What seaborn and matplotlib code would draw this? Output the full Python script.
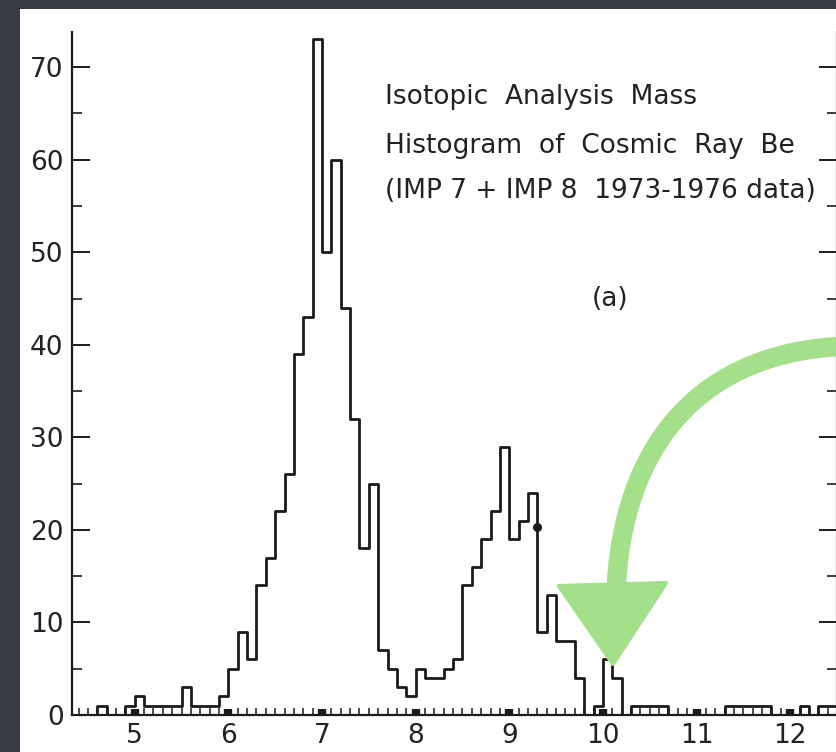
import numpy as np
import pandas as pd
import matplotlib
matplotlib.use("Agg")
import matplotlib.pyplot as plt
import seaborn as sns
from matplotlib.path import Path
from matplotlib.patches import PathPatch, Polygon, Rectangle
from matplotlib.ticker import MultipleLocator

# ---------------- data ----------------
mass_centers = [4.45, 4.55, 4.65, 4.75, 4.85, 4.95,
                5.05, 5.15, 5.25, 5.35, 5.45, 5.55, 5.65, 5.75, 5.85, 5.95,
                6.05, 6.15, 6.25, 6.35, 6.45, 6.55, 6.65, 6.75, 6.85, 6.95,
                7.05, 7.15, 7.25, 7.35, 7.45, 7.55, 7.65, 7.75, 7.85, 7.95,
                8.05, 8.15, 8.25, 8.35, 8.45, 8.55, 8.65, 8.75, 8.85, 8.95,
                9.05, 9.15, 9.25, 9.35, 9.45, 9.55, 9.65, 9.75, 9.85, 9.95,
                10.05, 10.15, 10.25, 10.35, 10.45, 10.55, 10.65, 10.75, 10.85, 10.95,
                11.05, 11.15, 11.25, 11.35, 11.45, 11.55, 11.65, 11.75, 11.85, 11.95,
                12.05, 12.15, 12.25, 12.35, 12.45]
counts = [0, 0, 1, 0, 0, 1,
          2, 1, 1, 1, 1, 3, 1, 1, 1, 2,
          5, 9, 6, 14, 17, 22, 26, 39, 43, 73,
          50, 60, 44, 32, 18, 25, 7, 5, 3, 2,
          5, 4, 4, 5, 6, 14, 16, 19, 22, 29,
          19, 21, 24, 9, 13, 8, 8, 4, 0, 1,
          6, 4, 0, 1, 1, 1, 1, 0, 0, 0,
          0, 0, 0, 1, 1, 1, 1, 1, 0, 0,
          0, 1, 0, 1, 1]
x_ticks = [5, 6, 7, 8, 9, 10, 11, 12]
y_ticks = [0, 10, 20, 30, 40, 50, 60, 70]
marked_point_x = [9.3]
marked_point_y = [20.3]
title_lines = ["Isotopic  Analysis  Mass",
               "Histogram  of  Cosmic  Ray  Be",
               "(IMP 7 + IMP 8  1973-1976 data)"]
panel_label = "(a)"

df = pd.DataFrame({"mass": mass_centers, "count": counts})

# ---------------- figure ----------------
W, H = 837, 752
sns.set_style("ticks")
plt.rcParams["font.family"] = ["DejaVu Sans"]
fig = plt.figure(figsize=(W / 100, H / 100), dpi=100)
fig.patch.set_facecolor("#363b46")

# white "paper" area
fig.patches.append(Rectangle((20 / W, 0), 1 - 20 / W, 1 - 9 / H,
                             transform=fig.transFigure, facecolor="white",
                             edgecolor="none", zorder=-10))

def fx(px):
    return px / W

def fy(py):
    return 1 - py / H

ax_left, ax_right, ax_bottom, ax_top = 72, 837, 715, 32
ax = fig.add_axes([fx(ax_left), fy(ax_bottom), (ax_right - ax_left) / W,
                   (ax_bottom - ax_top) / H])
ax.set_facecolor("none")
ax.set_zorder(1)

edges = [round(v, 2) for v in np.arange(4.4, 12.51, 0.1)]
ink = "#1b1b1b"
sns.histplot(data=df, x="mass", weights="count", bins=edges, element="step",
             fill=False, color=ink, linewidth=2.0, ax=ax)
ax.scatter(marked_point_x, marked_point_y, s=30, color=ink, zorder=5)

ax.set_xlim(4.33, 12.5)
ax.set_ylim(0, 73.8)
ax.set_xlabel("")
ax.set_ylabel("")

ax.set_xticks(x_ticks)
ax.set_xticklabels([str(t) for t in x_ticks])
ax.xaxis.set_minor_locator(MultipleLocator(0.1))
ax.set_yticks(y_ticks)
ax.set_yticklabels([str(t) for t in y_ticks])
ax.yaxis.set_minor_locator(MultipleLocator(5))

for s in ["left", "bottom", "right"]:
    ax.spines[s].set_color(ink)
    ax.spines[s].set_linewidth(1.6)
ax.spines["top"].set_visible(False)

ax.tick_params(axis="y", which="major", direction="in", length=13, width=1.4,
               color=ink, labelsize=19, labelcolor="#222222", pad=6,
               left=True, right=True)
ax.tick_params(axis="y", which="minor", direction="in", length=7, width=1.2,
               color=ink, left=True, right=True)
ax.tick_params(axis="x", which="major", direction="in", length=4.5, width=6,
               color=ink, labelsize=19, labelcolor="#222222", pad=6)
ax.tick_params(axis="x", which="minor", direction="in", length=5, width=1.1,
               color=ink)

# annotation text
baselines = [104, 153, 198]
for line, b in zip(title_lines, baselines):
    fig.text(fx(385), fy(b), line, fontsize=19, color="#222222",
             ha="left", va="baseline")
fig.text(fx(610), fy(306), panel_label, fontsize=19, color="#222222",
         ha="center", va="baseline")

# green hand-drawn arrow overlay (pixel coordinates)
ov = fig.add_axes([0, 0, 1, 1])
ov.set_zorder(2)
ov.set_xlim(0, W)
ov.set_ylim(H, 0)
ov.axis("off")
ov.patch.set_alpha(0)
green = "#a4e08a"
verts = [(850, 346), (700, 350), (622, 445), (616, 592)]
codes = [Path.MOVETO, Path.CURVE4, Path.CURVE4, Path.CURVE4]
ov.add_patch(PathPatch(Path(verts, codes), facecolor="none", edgecolor=green,
                       linewidth=14, capstyle="round", zorder=10))
ov.add_patch(Polygon([(559, 586), (666, 583), (613, 664)], closed=True,
                     facecolor=green, edgecolor=green, linewidth=3,
                     joinstyle="round", zorder=10))

fig.savefig("out.png", dpi=100, facecolor=fig.get_facecolor())
